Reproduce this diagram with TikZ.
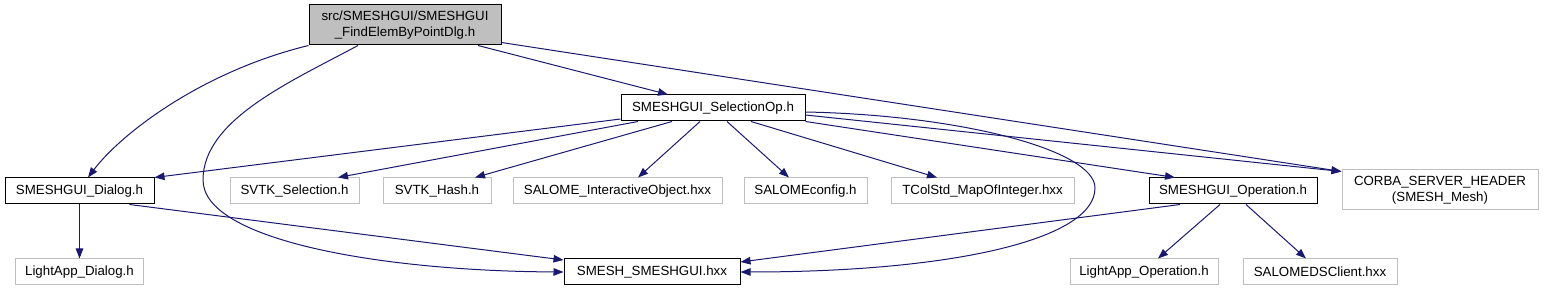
\documentclass[tikz,border=0pt]{standalone}
\usepackage{fontspec}
\setmainfont{Liberation Sans}
\usepackage{tikz}
\usetikzlibrary{arrows.meta}
\definecolor{edgeblue}{HTML}{191970}
\definecolor{extgray}{HTML}{BFBFBF}
\begin{document}
\begin{tikzpicture}[
  x=1pt, y=-1pt,
  hdr/.style={rectangle, draw=black, line width=1pt, fill=white, minimum height=26pt, inner sep=0pt, align=center, font=\fontsize{13.3}{16}\selectfont},
  exthdr/.style={hdr, draw=extgray},
  roothdr/.style={hdr, fill=extgray, minimum height=40pt},
  dep/.style={-{Triangle[length=10pt, width=7.5pt]}, line width=1pt, edgeblue}
]
\useasboundingbox (0,0) rectangle (1543,291);

%  : -- Top: the file itself and its direct include  : --
\node[roothdr, minimum width=192pt] (root) at (405, 25) {src/SMESHGUI/SMESHGUI\\\_FindElemByPointDlg.h};
\node[hdr, minimum width=184pt] (selop) at (713, 108) {SMESHGUI\_SelectionOp.h};

%  : -- Middle row  : --
\node[hdr, minimum width=149pt] (dialog) at (79.5, 191) {SMESHGUI\_Dialog.h};
\node[exthdr, minimum width=129pt] (svtksel) at (294.5, 191) {SVTK\_Selection.h};
\node[exthdr, minimum width=108pt] (svtkhash) at (437, 191) {SVTK\_Hash.h};
\node[exthdr, minimum width=209pt] (salomeio) at (617.5, 191) {SALOME\_InteractiveObject.hxx};
\node[exthdr, minimum width=123pt] (salconf) at (805.5, 191) {SALOMEconfig.h};
\node[exthdr, minimum width=183pt] (tcol) at (982.5, 191) {TColStd\_MapOfInteger.hxx};
\node[hdr, minimum width=168pt] (oper) at (1233, 191) {SMESHGUI\_Operation.h};
\node[exthdr, minimum width=196pt, minimum height=40pt] (corba) at (1440, 190) {CORBA\_SERVER\_HEADER\\(SMESH\_Mesh)};

%  : -- Bottom row  : --
\node[exthdr, minimum width=128pt] (ladlg) at (79.5, 272) {LightApp\_Dialog.h};
\node[hdr, minimum width=176pt] (smesh) at (652, 272) {SMESH\_SMESHGUI.hxx};
\node[exthdr, minimum width=148pt] (laop) at (1144, 272) {LightApp\_Operation.h};
\node[exthdr, minimum width=154pt] (saldsc) at (1320, 272) {SALOMEDSClient.hxx};

%  : -- Includes of the root file  : --
\draw[dep] (root.south west) .. controls (200, 72) and (120, 135) .. ([xshift=8.5pt]dialog.north);
\draw[dep] ([xshift=-47pt]root.south) .. controls (290, 82) and (203, 120) .. (203, 180)
  .. controls (203, 240) and (380, 271) .. (smesh.west);
\draw[dep] ([xshift=73pt]root.south) -- ([xshift=-45pt]selop.north);
\draw[dep] ([yshift=3pt]root.south east) -- ([yshift=-2pt]corba.north west);

%  : -- Includes of SMESHGUI_SelectionOp.h  : --
\draw[dep] ([yshift=-11pt]selop.west) -- (dialog.north east);
\draw[dep] ([xshift=-75pt]selop.south) -- ([xshift=43.5pt]svtksel.north);
\draw[dep] ([xshift=-41pt]selop.south) -- ([xshift=38pt]svtkhash.north);
\draw[dep] ([xshift=-13pt]selop.south) -- ([xshift=20.5pt]salomeio.north);
\draw[dep] ([xshift=14pt]selop.south) -- ([xshift=-16.5pt]salconf.north);
\draw[dep] ([xshift=38pt]selop.south) -- ([xshift=-45.5pt]tcol.north);
\draw[dep] (selop.south east) -- ([xshift=-58pt]oper.north);
\draw[dep] ([yshift=-7pt]selop.east) -- ([yshift=-2pt]corba.north west);
\draw[dep] ([yshift=-4pt]selop.east) .. controls (960, 115) and (1095, 150) .. (1095, 188)
  .. controls (1095, 240) and (950, 272) .. (smesh.east);

%  : -- Includes of the dialog and the operation  : --
\draw[dep] (dialog.south) -- (ladlg.north);
\draw[dep] ([xshift=50pt]dialog.south) -- ([yshift=12pt]smesh.west);
\draw[dep] ([xshift=-53pt]oper.south) -- ([yshift=10pt]smesh.east);
\draw[dep] ([xshift=-13pt]oper.south) -- ([xshift=14pt]laop.north);
\draw[dep] ([xshift=13pt]oper.south) -- ([xshift=-14pt]saldsc.north);

\end{tikzpicture}
\end{document}
